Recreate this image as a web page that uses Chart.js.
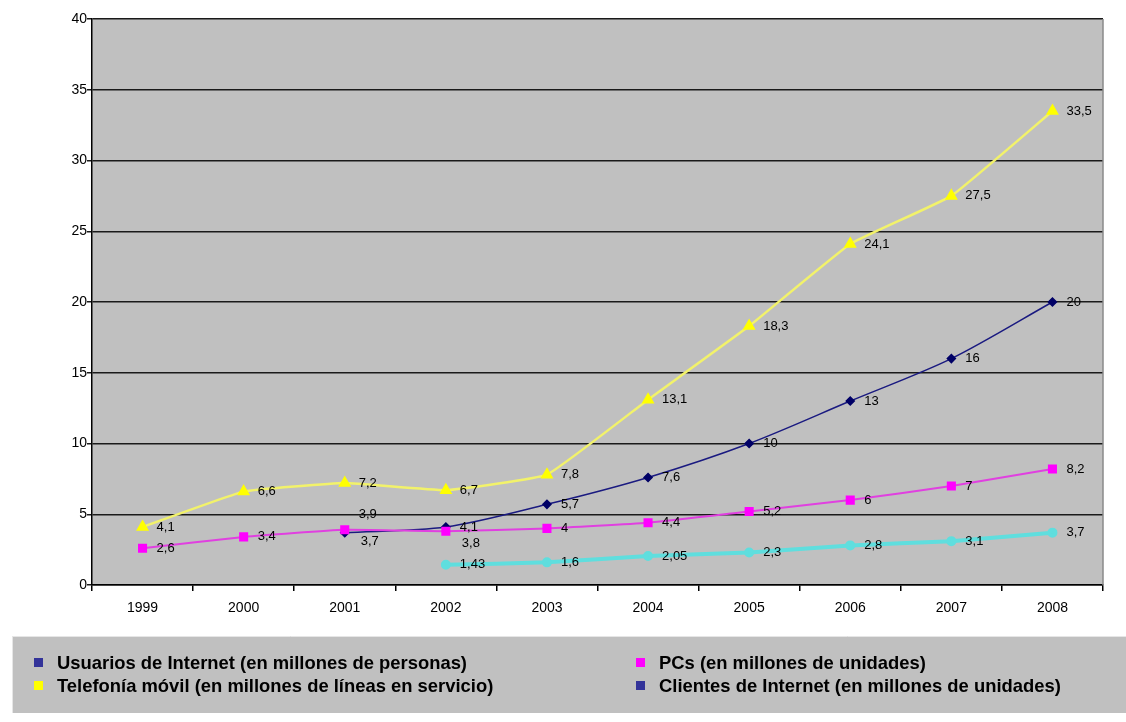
<!DOCTYPE html>
<html>
<head>
<meta charset="utf-8">
<script src="https://cdn.jsdelivr.net/npm/chart.js@4"></script>
<style>
  html, body { margin: 0; padding: 0; background: #ffffff; }
  #wrap { width: 1126px; height: 722px; }
</style>
</head>
<body>
<div id="wrap"><canvas id="chart" width="1126" height="722"></canvas></div>
<script>
// Years on the horizontal axis
const years = ['1999', '2000', '2001', '2002', '2003', '2004', '2005', '2006', '2007', '2008'];

// Series values (millions)
const usuarios  = [null, null, 3.7, 4.1, 5.7, 7.6, 10, 13, 16, 20];
const telefonia = [4.1, 6.6, 7.2, 6.7, 7.8, 13.1, 18.3, 24.1, 27.5, 33.5];
const pcs       = [2.6, 3.4, 3.9, 3.8, 4, 4.4, 5.2, 6, 7, 8.2];
const clientes  = [null, null, null, 1.43, 1.6, 2.05, 2.3, 2.8, 3.1, 3.7];

// Series names
const seriesNames = [
  'Usuarios de Internet (en millones de personas)',
  'PCs (en millones de unidades)',
  'Telefonía móvil (en millones de líneas en servicio)',
  'Clientes de Internet (en millones de unidades)'
];

// Value axis range
const yMin = 0, yMax = 40, yStep = 5;

// Label nudges where values crowd together: [dx, dy] per point index
const labelNudge = {
  usuarios: { 2: [2, 9] },
  pcs: { 2: [0, -15], 3: [2, 12] }
};

const fmt = v => String(v).replace('.', ',');

Chart.defaults.font.family = "'Liberation Sans', Arial, sans-serif";

// Grey plot area and right border
const plotBackground = {
  id: 'plotBackground',
  beforeDraw(chart) {
    const { ctx, chartArea: a } = chart;
    ctx.save();
    ctx.fillStyle = '#c0c0c0';
    ctx.fillRect(a.left, a.top, a.right - a.left, a.bottom - a.top);
    ctx.restore();
  },
  afterDatasetsDraw(chart) {
    const { ctx, chartArea: a } = chart;
    ctx.save();
    ctx.strokeStyle = '#8a8a8a';
    ctx.lineWidth = 1.5;
    ctx.beginPath();
    ctx.moveTo(a.right, a.top);
    ctx.lineTo(a.right, a.bottom);
    ctx.stroke();
    ctx.restore();
  }
};

// Value labels to the right of each point
const valueLabels = {
  id: 'valueLabels',
  afterDatasetsDraw(chart) {
    const { ctx } = chart;
    ctx.save();
    ctx.font = "13px 'Liberation Sans', Arial, sans-serif";
    ctx.fillStyle = '#000';
    ctx.textAlign = 'left';
    ctx.textBaseline = 'middle';
    chart.data.datasets.forEach((ds, di) => {
      const meta = chart.getDatasetMeta(di);
      const nudge = labelNudge[ds.key] || {};
      meta.data.forEach((pt, i) => {
        const v = ds.data[i];
        if (v === null || v === undefined) return;
        const n = nudge[i] || [0, 0];
        ctx.fillText(fmt(v), pt.x + 14 + n[0], pt.y + n[1]);
      });
    });
    ctx.restore();
  }
};

// Two-column legend panel below the plot
const legendPanel = {
  id: 'legendPanel',
  afterDraw(chart) {
    const { ctx } = chart;
    const items = [
      { text: seriesNames[0], color: '#333399', x: 34, y: 664 },
      { text: seriesNames[1], color: '#ff00ff', x: 636, y: 664 },
      { text: seriesNames[2], color: '#ffff00', x: 34, y: 687 },
      { text: seriesNames[3], color: '#333399', x: 636, y: 687 }
    ];
    ctx.save();
    ctx.fillStyle = '#c0c0c0';
    ctx.fillRect(12, 636, 1114, 77);
    ctx.strokeStyle = '#e6e6e6';
    ctx.lineWidth = 1;
    ctx.beginPath();
    ctx.moveTo(12, 636.5);
    ctx.lineTo(1126, 636.5);
    ctx.moveTo(12.5, 636);
    ctx.lineTo(12.5, 713);
    ctx.stroke();

    // condensed bold lettering: squeeze the face horizontally
    ctx.font = "bold 19px 'Liberation Sans', Arial, sans-serif";
    const squeeze = 410 / ctx.measureText(seriesNames[0]).width;
    ctx.textAlign = 'left';
    ctx.textBaseline = 'middle';
    items.forEach(it => {
      ctx.fillStyle = it.color;
      ctx.fillRect(it.x, it.y - 6, 9, 9);
      ctx.save();
      ctx.translate(it.x + 23, it.y);
      ctx.scale(squeeze, 1);
      ctx.fillStyle = '#000';
      ctx.fillText(it.text, 0, 0);
      ctx.restore();
    });
    ctx.restore();
  }
};

new Chart(document.getElementById('chart'), {
  type: 'line',
  data: {
    labels: years,
    datasets: [
      {
        key: 'clientes', label: seriesNames[3], data: clientes,
        borderColor: '#5fdede', backgroundColor: '#5fdede',
        borderWidth: 4, pointStyle: 'circle', pointRadius: 3, tension: 0.15
      },
      {
        key: 'pcs', label: seriesNames[1], data: pcs,
        borderColor: '#e040e0', backgroundColor: '#ff00ff',
        pointBorderColor: '#ff00ff',
        borderWidth: 2, pointStyle: 'rect', pointRadius: 5, tension: 0.15
      },
      {
        key: 'usuarios', label: seriesNames[0], data: usuarios,
        borderColor: '#1a1a80', backgroundColor: '#000066',
        pointBorderColor: '#000066',
        borderWidth: 1.5, pointStyle: 'rectRot', pointRadius: 4, tension: 0.3
      },
      {
        key: 'telefonia', label: seriesNames[2], data: telefonia,
        borderColor: '#f2f26a', backgroundColor: '#ffff00',
        pointBorderColor: '#ffff00',
        borderWidth: 2.5, pointStyle: 'triangle', pointRadius: 5, tension: 0.1
      }
    ]
  },
  options: {
    responsive: false,
    devicePixelRatio: 1,
    animation: false,
    spanGaps: false,
    layout: { padding: { left: 0, top: 19, right: 23, bottom: 92 } },
    plugins: {
      legend: { display: false },
      tooltip: { enabled: false },
      title: { display: false }
    },
    scales: {
      x: {
        offset: true,
        grid: { offset: true, drawOnChartArea: false, drawTicks: true, tickLength: 6, color: '#000', lineWidth: 1.5 },
        border: { display: true, color: '#000', width: 1.5 },
        ticks: { color: '#000', font: { size: 14 }, padding: 9, maxRotation: 0 },
        afterFit(s) { s.height = 45; }
      },
      y: {
        min: yMin, max: yMax,
        grid: { color: '#1a1a1a', lineWidth: 1.5, tickLength: 5 },
        border: { display: true, color: '#000', width: 1.5 },
        ticks: { stepSize: yStep, color: '#000', font: { size: 14 }, padding: 0 },
        afterFit(s) { s.width = 92; }
      }
    }
  },
  plugins: [plotBackground, valueLabels, legendPanel]
});
</script>
</body>
</html>
